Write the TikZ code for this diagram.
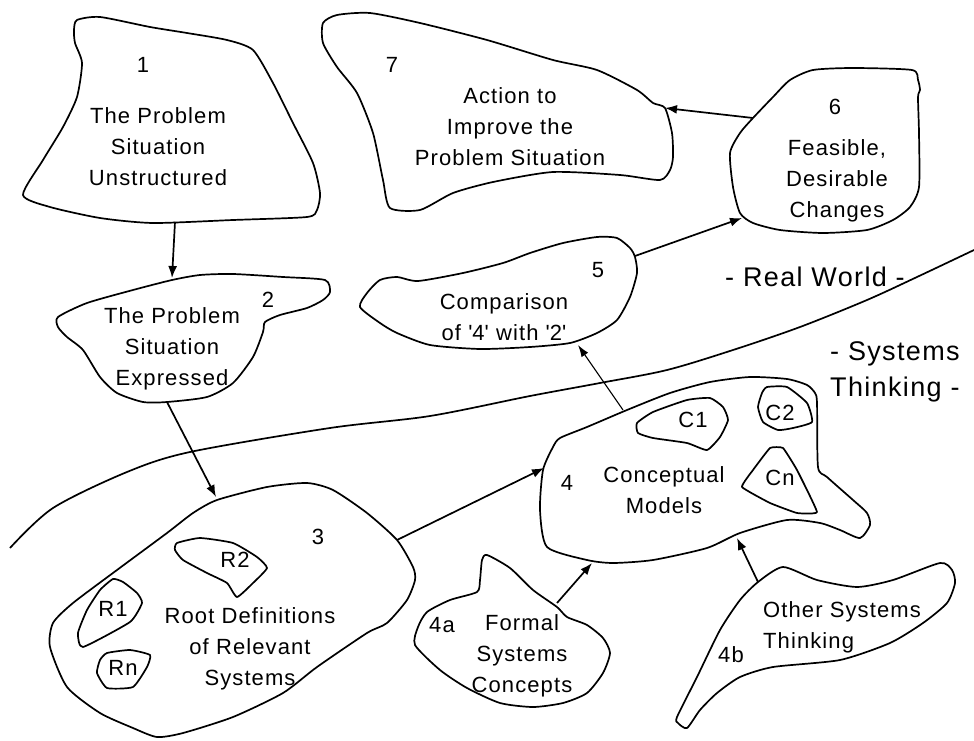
\documentclass[tikz,border=0pt]{standalone}
\usepackage{fontspec}
\setmainfont{Liberation Sans}[LetterSpace=5]
\usetikzlibrary{arrows.meta}

\tikzset{
  blob/.style={line width=1.7pt, line join=round},
  lbl/.style={align=center, inner sep=0pt, font=\fontsize{22}{31}\selectfont},
  side/.style={align=left, inner sep=0pt, font=\fontsize{27}{36}\selectfont},
  link/.style={line width=1.7pt, -{Latex[length=12pt,width=9pt]}},
  thinlink/.style={line width=1.1pt, -{Latex[length=12pt,width=8pt]}},
}

\begin{document}
\begin{tikzpicture}[x=1pt,y=-1pt]
\useasboundingbox (0,0) rectangle (974,741);

% boundary between the two worlds
\draw[blob] plot[smooth] coordinates {(10,548) (53,508) (127,472) (190,452) (330,428) (430,416) (530,396) (600,383) (667,370) (733,350) (800,327) (867,300) (917,277) (974,250)};

% 1 and 2
\draw[blob] plot[smooth cycle,tension=.4] coordinates {(77,20) (100,17) (150,27) (187,33) (227,40) (253,50) (273,83) (293,123) (313,163) (320,193) (317,210) (307,217) (233,220) (153,223) (100,218) (50,207) (23,195) (43,160) (63,127) (77,97) (82,63) (75,43) (74,30)};
\draw[blob] plot[smooth cycle,tension=.4] coordinates {(58,317) (87,303) (133,290) (172,280) (200,275) (233,274) (283,277) (325,280) (330,292) (323,300) (307,308) (280,315) (265,322) (263,332) (253,357) (233,383) (207,397) (167,402) (143,402) (117,393) (100,377) (83,350) (67,337) (58,327)};

% 3 with the root definitions
\draw[blob] plot[smooth cycle,tension=.4] coordinates {(217,500) (267,487) (307,483) (333,490) (367,513) (397,540) (413,567) (415,580) (407,600) (387,623) (367,633) (317,667) (283,693) (233,717) (183,733) (157,737) (133,728) (100,713) (67,687) (50,647) (53,623) (73,603) (117,570) (167,533) (193,513)};
\draw[blob] plot[smooth cycle,tension=.3] coordinates {(177,543) (200,538) (233,543) (257,557) (267,568) (253,583) (237,597) (227,583) (207,573) (183,560) (175,550)};
\draw[blob] plot[smooth cycle,tension=.3] coordinates {(113,579) (123,582) (137,593) (142,603) (130,622) (83,647) (78,633) (87,610) (100,590)};
\draw[blob] plot[smooth cycle,tension=.3] coordinates {(107,653) (130,650) (150,655) (147,667) (133,687) (107,688) (97,673) (100,660)};

% 4 with the models, 4a, 4b
\draw[blob] plot[smooth cycle,tension=.4] coordinates {(560,438) (587,427) (627,410) (670,393) (710,382) (750,377) (787,379) (807,385) (815,393) (817,403) (818,467) (827,477) (853,500) (867,513) (870,525) (860,538) (840,530) (820,523) (787,520) (740,533) (707,548) (653,560) (613,563) (587,560) (547,547) (540,510) (543,470) (553,447)};
\draw[blob] plot[smooth cycle,tension=.3] coordinates {(637,423) (653,412) (687,400) (710,398) (723,407) (728,420) (720,437) (707,450) (687,443) (653,438) (638,433)};
\draw[blob] plot[smooth cycle,tension=.3] coordinates {(767,387) (787,387) (807,403) (812,422) (793,428) (778,430) (763,422) (758,407) (762,393)};
\draw[blob] plot[smooth cycle,tension=.2] coordinates {(770,448) (783,448) (797,470) (817,512) (797,513) (770,503) (742,487) (753,470)};
\draw[blob] plot[smooth cycle,tension=.4] coordinates {(487,555) (510,568) (533,590) (557,607) (567,617) (587,625) (603,638) (610,653) (603,673) (587,693) (563,703) (533,707) (500,703) (467,688) (440,670) (415,645) (418,627) (427,612) (450,600) (477,592) (480,580) (482,560)};
\draw[blob] plot[smooth cycle,tension=.4] coordinates {(758,582) (783,567) (817,580) (857,587) (893,580) (940,563) (952,570) (955,583) (947,603) (923,623) (890,643) (840,660) (773,667) (740,677) (717,693) (700,710) (687,728) (678,723) (677,717) (697,677) (720,630) (740,600)};

% 5, 6 and 7
\draw[blob] plot[smooth cycle,tension=.4] coordinates {(360,307) (367,293) (380,280) (397,277) (418,281) (463,273) (503,263) (530,253) (563,243) (597,237) (617,238) (630,248) (635,257) (637,273) (630,297) (617,320) (597,333) (570,343) (530,347) (480,349) (430,345) (397,333) (380,323)};
\draw[blob] plot[smooth cycle,tension=.4] coordinates {(813,70) (853,68) (912,70) (918,80) (920,90) (918,97) (919,133) (919,187) (910,207) (893,220) (867,230) (823,233) (780,230) (753,223) (740,213) (733,187) (730,153) (740,133) (753,118) (773,97) (790,80)};
\draw[blob] plot[smooth cycle,tension=.4] coordinates {(323,23) (337,15) (370,13) (420,23) (487,40) (553,60) (597,70) (637,90) (653,103) (665,108) (672,133) (673,157) (670,170) (660,180) (620,175) (553,172) (493,182) (453,193) (420,210) (390,208) (383,180) (373,133) (357,93) (337,67) (323,43)};

% numbers and small labels
\foreach \n/\x/\y in {1/143/65, 2/268/300, 3/318/537, 4/567/483, 4a/442/625, 4b/731/655, 5/598/270, 6/835/107, 7/392/65}
  \node[lbl] (num\n) at (\x,\y) {\n};
\foreach \n/\x/\y in {R1/113/609, R2/235/560, Rn/123/668, C1/693/420, C2/780/413, Cn/780/478}
  \node[lbl] (\n) at (\x,\y) {\n};

% texts
\node[lbl] (unstructured) at (158,147) {The Problem\\Situation\\Unstructured};
\node[lbl] (expressed) at (172,349) {The Problem\\Situation\\Expressed};
\node[lbl] (rootdefs) at (250,649) {Root Definitions\\of Relevant\\Systems};
\node[lbl] (models) at (664,490) {Conceptual\\Models};
\node[lbl] (formal) at (522,656) {Formal\\Systems\\Concepts};
\node[lbl, align=left, anchor=west] (other) at (763,627) {Other Systems\\Thinking};
\node[lbl] (comparison) at (504,317) {Comparison\\of \textquotesingle4\textquotesingle\ with \textquotesingle2\textquotesingle};
\node[lbl] (feasible) at (837,181) {Feasible,\\Desirable\\Changes};
\node[lbl] (action) at (510,127) {Action to\\Improve the\\Problem Situation};
\node[side, anchor=center] (realworld) at (815,277) {- Real World -};
\node[side, anchor=west] (systhink) at (830,372) {- Systems\\Thinking -};

% arrow ends
\coordinate (a1) at (175,222); \coordinate (a2) at (172,278);
\coordinate (b2) at (167,402); \coordinate (b3) at (216,497);
\coordinate (c3) at (397,540); \coordinate (c4) at (544,468);
\coordinate (d4a) at (557,603); \coordinate (d4) at (592,563);
\coordinate (e4b) at (758,582); \coordinate (e4) at (737,538);
\coordinate (f4) at (623,410); \coordinate (f5) at (578,345);
\coordinate (g5) at (635,256); \coordinate (g6) at (742,218);
\coordinate (h6) at (753,118); \coordinate (h7) at (665,108);

\draw[link] (a1) -- (a2);
\draw[link] (b2) -- (b3);
\draw[link] (c3) -- (c4);
\draw[link] (d4a) -- (d4);
\draw[link] (e4b) -- (e4);
\draw[thinlink] (f4) -- (f5);
\draw[link] (g5) -- (g6);
\draw[link] (h6) -- (h7);
\end{tikzpicture}
\end{document}
